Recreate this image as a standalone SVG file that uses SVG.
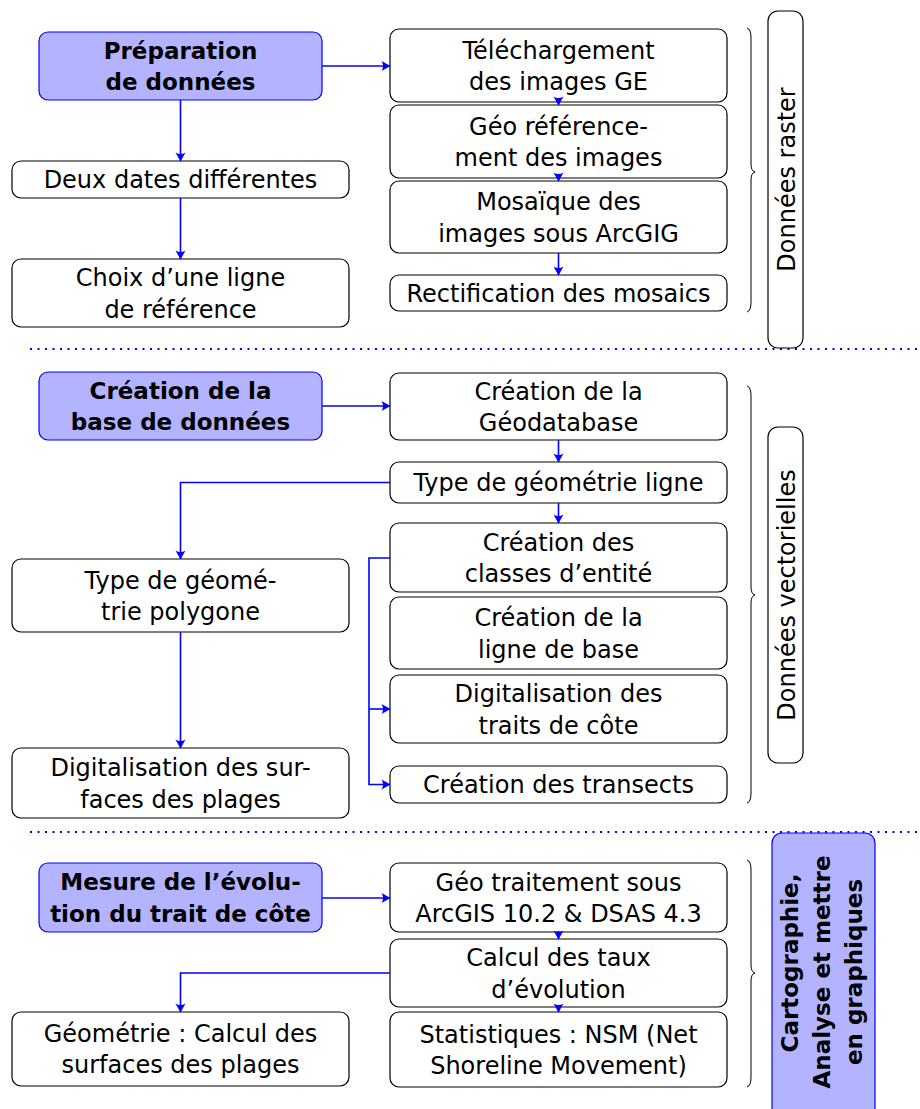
<svg xmlns="http://www.w3.org/2000/svg" width="920" height="1109" viewBox="0 0 920 1109">
<style>
.box{fill:#ffffff;stroke:#000;stroke-width:1.2}
.hbox{fill:#b3b3ff;stroke:#0000ff;stroke-width:1.2}
.t{font-family:"DejaVu Sans",sans-serif;font-size:24px;fill:#000;text-anchor:middle}
.b{font-family:"DejaVu Sans",sans-serif;font-size:23px;font-weight:bold;fill:#000;text-anchor:middle}
.c{fill:none;stroke:#0000ff;stroke-width:1.6}
.brace{fill:none;stroke:#000;stroke-width:1}
.sep{fill:none;stroke:#0000ff;stroke-width:2;stroke-dasharray:2 5.5}
</style>
<defs>
<marker id="ah" markerUnits="userSpaceOnUse" markerWidth="14" markerHeight="14" viewBox="-11 -7 13 14" refX="0" refY="0" orient="auto">
<path d="M0.5,0 L-8.5,-5 Q-5.5,0 -8.5,5 Z" fill="#0000ff"/>
</marker>
</defs>

<!-- separators -->
<g id="separators">
<line class="sep" x1="30" y1="349" x2="920" y2="349"/>
<line class="sep" x1="30" y1="832" x2="920" y2="832"/>
</g>

<!-- Section 1 -->
<g id="prep"><rect class="hbox" x="39" y="32" width="283" height="68" rx="9"/>
<text class="b"><tspan x="180.5" y="58.7">Préparation</tspan><tspan x="180.5" y="90.2">de données</tspan></text></g>
<g id="deux"><rect class="box" x="12" y="161" width="337" height="37" rx="9"/>
<text class="t" x="180.5" y="188.3">Deux dates différentes</text></g>
<g id="choix"><rect class="box" x="12" y="259" width="337" height="68" rx="9"/>
<text class="t"><tspan x="180.5" y="286">Choix d’une ligne</tspan><tspan x="180.5" y="317.5">de référence</tspan></text></g>
<g id="tele"><rect class="box" x="390" y="29" width="337" height="73" rx="9"/>
<text class="t"><tspan x="558.5" y="58.5">Téléchargement</tspan><tspan x="558.5" y="90">des images GE</tspan></text></g>
<g id="georef"><rect class="box" x="390" y="105" width="337" height="73" rx="9"/>
<text class="t"><tspan x="558.5" y="134.5">Géo référence-</tspan><tspan x="558.5" y="166">ment des images</tspan></text></g>
<g id="mosa"><rect class="box" x="390" y="181" width="337" height="72" rx="9"/>
<text class="t"><tspan x="558.5" y="210">Mosaïque des</tspan><tspan x="558.5" y="241.5">images sous ArcGIG</tspan></text></g>
<g id="rect"><rect class="box" x="390" y="275" width="337" height="36" rx="9"/>
<text class="t" x="558.5" y="301.8">Rectification des mosaics</text></g>
<g id="brace1"><path class="brace" d="M747,28 Q751,29 751,38 L751,164 Q751,171 755,172 Q751,173 751,180 L751,302 Q751,311 747,312"/></g>
<g id="raster"><rect class="box" x="768" y="11" width="35" height="337" rx="10"/>
<text class="t" transform="translate(786.5,179.5) rotate(-90)" x="0" y="8.75">Données raster</text></g>

<!-- Section 2 -->
<g id="creabase"><rect class="hbox" x="39" y="372" width="283" height="68" rx="9"/>
<text class="b"><tspan x="180.5" y="398.7">Création de la</tspan><tspan x="180.5" y="430.2">base de données</tspan></text></g>
<g id="geodb"><rect class="box" x="390" y="373" width="337" height="67" rx="9"/>
<text class="t"><tspan x="558.5" y="399.5">Création de la</tspan><tspan x="558.5" y="431">Géodatabase</tspan></text></g>
<g id="typeligne"><rect class="box" x="390" y="462" width="337" height="41" rx="9"/>
<text class="t" x="558.5" y="491.3">Type de géométrie ligne</text></g>
<g id="classes"><rect class="box" x="390" y="523" width="337" height="69" rx="9"/>
<text class="t"><tspan x="558.5" y="550.5">Création des</tspan><tspan x="558.5" y="582">classes d’entité</tspan></text></g>
<g id="lignebase"><rect class="box" x="390" y="597" width="337" height="72" rx="9"/>
<text class="t"><tspan x="558.5" y="626">Création de la</tspan><tspan x="558.5" y="657.5">ligne de base</tspan></text></g>
<g id="digittraits"><rect class="box" x="390" y="675" width="337" height="68" rx="9"/>
<text class="t"><tspan x="558.5" y="702">Digitalisation des</tspan><tspan x="558.5" y="733.5">traits de côte</tspan></text></g>
<g id="transects"><rect class="box" x="390" y="766" width="337" height="37" rx="9"/>
<text class="t" x="558.5" y="793.3">Création des transects</text></g>
<g id="polygone"><rect class="box" x="12" y="559" width="337" height="73" rx="9"/>
<text class="t"><tspan x="180.5" y="588.5">Type de géomé-</tspan><tspan x="180.5" y="620">trie polygone</tspan></text></g>
<g id="digitsurf"><rect class="box" x="12" y="748" width="337" height="70" rx="9"/>
<text class="t"><tspan x="180.5" y="776">Digitalisation des sur-</tspan><tspan x="180.5" y="807.5">faces des plages</tspan></text></g>
<g id="brace2"><path class="brace" d="M747,386 Q751,387 751,396 L751,587 Q751,594 755,595 Q751,596 751,603 L751,793 Q751,802 747,803"/></g>
<g id="vector"><rect class="box" x="768" y="427" width="35" height="336" rx="10"/>
<text class="t" transform="translate(786.5,595) rotate(-90)" x="0" y="8.75">Données vectorielles</text></g>

<!-- Section 3 -->
<g id="mesure"><rect class="hbox" x="39" y="863" width="283" height="69" rx="9"/>
<text class="b"><tspan x="180.5" y="890.2">Mesure de l’évolu-</tspan><tspan x="180.5" y="921.7">tion du trait de côte</tspan></text></g>
<g id="geotrait"><rect class="box" x="390" y="863" width="337" height="69" rx="9"/>
<text class="t"><tspan x="558.5" y="890.5">Géo traitement sous</tspan><tspan x="558.5" y="922">ArcGIS 10.2 &amp; DSAS 4.3</tspan></text></g>
<g id="calcul"><rect class="box" x="390" y="939" width="337" height="68" rx="9"/>
<text class="t"><tspan x="558.5" y="966">Calcul des taux</tspan><tspan x="558.5" y="997.5">d’évolution</tspan></text></g>
<g id="stats"><rect class="box" x="390" y="1012" width="337" height="75" rx="9"/>
<text class="t"><tspan x="558.5" y="1042.5">Statistiques : NSM (Net</tspan><tspan x="558.5" y="1074">Shoreline Movement)</tspan></text></g>
<g id="geometrie"><rect class="box" x="12" y="1012" width="337" height="74" rx="9"/>
<text class="t"><tspan x="180.5" y="1041.5">Géométrie : Calcul des</tspan><tspan x="180.5" y="1073">surfaces des plages</tspan></text></g>
<g id="brace3"><path class="brace" d="M747,860 Q751,861 751,870 L751,965 Q751,972 755,973 Q751,974 751,981 L751,1077 Q751,1086 747,1087"/></g>
<g id="carto"><rect class="hbox" x="772" y="833" width="103" height="290" rx="10"/>
<text class="b" transform="translate(823.5,972) rotate(-90)"><tspan x="9" y="-25.5">Cartographie,</tspan><tspan x="0" y="6.5">Analyse et mettre</tspan><tspan x="0" y="38.5">en graphiques</tspan></text></g>

<!-- connectors -->
<g id="connectors">
<path class="c" d="M322,66 H390" marker-end="url(#ah)"/>
<path class="c" d="M180.5,100 V161" marker-end="url(#ah)"/>
<path class="c" d="M180.5,198 V259" marker-end="url(#ah)"/>
<path class="c" d="M558.5,101 V105" marker-end="url(#ah)"/>
<path class="c" d="M558.5,177 V181" marker-end="url(#ah)"/>
<path class="c" d="M558.5,253 V275" marker-end="url(#ah)"/>
<path class="c" d="M322,406 H390" marker-end="url(#ah)"/>
<path class="c" d="M558.5,440 V462" marker-end="url(#ah)"/>
<path class="c" d="M390,482.5 H180.5 V559" marker-end="url(#ah)"/>
<path class="c" d="M558.5,503 V523" marker-end="url(#ah)"/>
<path class="c" d="M390,558 H369 V784.5 H390" marker-end="url(#ah)"/>
<path class="c" d="M369,709 H390" marker-end="url(#ah)"/>
<path class="c" d="M180.5,632 V748" marker-end="url(#ah)"/>
<path class="c" d="M322,898 H390" marker-end="url(#ah)"/>
<path class="c" d="M558.5,931 V939" marker-end="url(#ah)"/>
<path class="c" d="M558.5,1006 V1012" marker-end="url(#ah)"/>
<path class="c" d="M390,973 H180.5 V1012" marker-end="url(#ah)"/>
</g>
</svg>
